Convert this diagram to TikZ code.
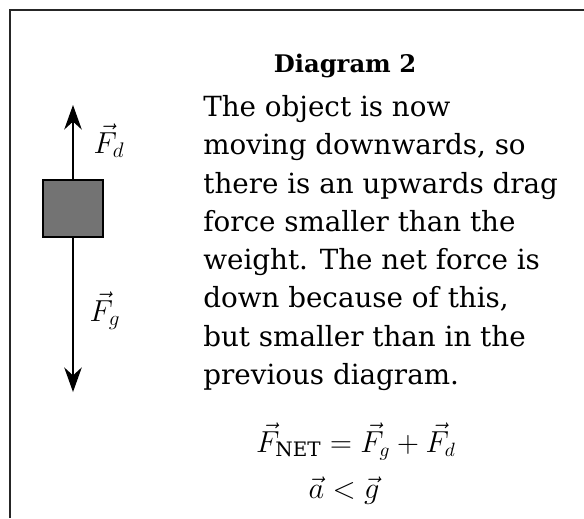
\documentclass[tikz,border=0pt]{standalone}
\usepackage{amsmath,amssymb}
\usepackage{fontspec}
\setmainfont{DejaVu Serif}
\usepackage{tikz}
\usetikzlibrary{arrows.meta,positioning}
\usepackage{xcolor}
\definecolor{blockgray}{RGB}{115,115,115}

\begin{document}
\begin{tikzpicture}[
  x=0.02cm, y=-0.02cm,
  frameline/.style={line width=1pt, black!85},
  block/.style={draw, line width=0.8pt, fill=blockgray,
                minimum width=1.2cm, minimum height=1.14cm, inner sep=0pt},
  force/.style={-{Stealth[length=14pt, width=10pt]}, line width=0.8pt},
  flbl/.style={font=\fontsize{18}{20}\selectfont, inner sep=0pt},
  hd/.style={font=\fontsize{13.8}{20}\selectfont\bfseries, anchor=base},
  body/.style={font=\fontsize{15.8}{21.8}\selectfont, align=left,
               anchor=north west, inner sep=0pt},
  eqn/.style={font=\fontsize{16.2}{20}\selectfont, anchor=base},
]
\useasboundingbox (0,0) rectangle (584,518);

%% ---- FRAME (top and left edges) ----
\coordinate (fa) at (10,518);
\coordinate (fb) at (10,10);
\coordinate (fc) at (584,10);
\draw[frameline] (fa) -- (fb) -- (fc);

%% ---- FREE BODY DIAGRAM ----
\node[block] (obj) at (73,208.5) {};
\coordinate (tipd) at (73,105);
\coordinate (tipg) at (73,392);
\draw[force] (obj.north) -- (tipd);
\draw[force] (obj.south) -- (tipg);
\node[flbl] (lblFd) at (109,141) {$\vec{F}_d$};
\node[flbl] (lblFg) at (105,311) {$\vec{F}_g$};

%% ---- TEXT ----
\node[hd] (title) at (345,72) {Diagram 2};
\node[body] (expl) at (203,95) {The object is now\\
  moving downwards, so\\
  there is an upwards drag\\
  force smaller than the\\
  weight. The net force is\\
  down because of this,\\
  but smaller than in the\\
  previous diagram.};

%% ---- EQUATIONS ----
\node[eqn] (fnet) at (356,452) {$\vec{F}_{\mathrm{NET}} = \vec{F}_g + \vec{F}_d$};
\node[eqn] (acc) at (344,498) {$\vec{a} < \vec{g}$};

\end{tikzpicture}
\end{document}
